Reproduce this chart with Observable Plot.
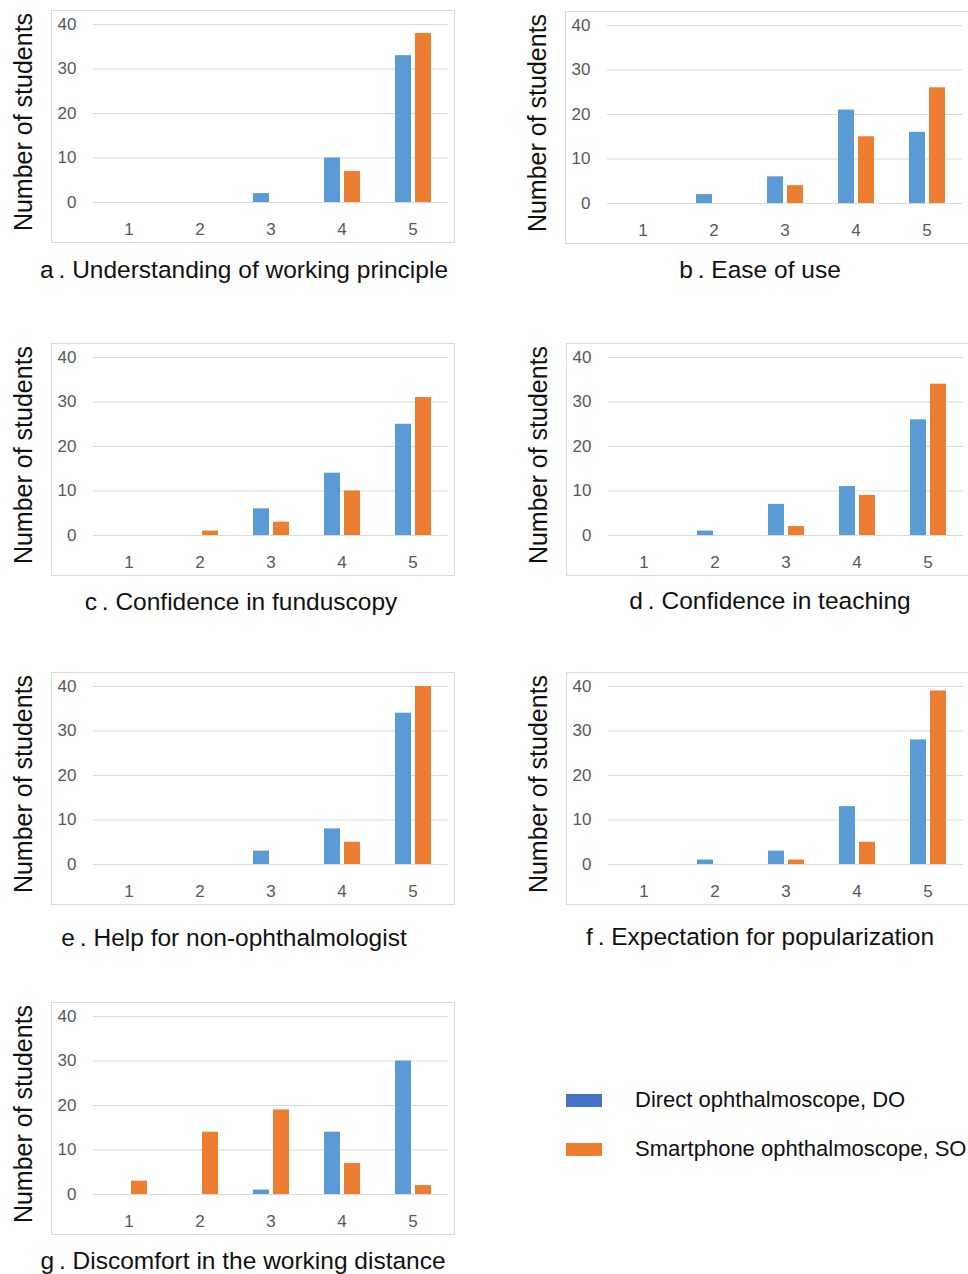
<!DOCTYPE html>
<html>
<head>
<meta charset="utf-8">
<script src="https://cdn.jsdelivr.net/npm/d3@7"></script>
<script src="https://cdn.jsdelivr.net/npm/@observablehq/plot@0.6"></script>
<style>
  html, body { margin: 0; padding: 0; background: #fff; }
  #root { position: relative; width: 968px; height: 1274px; overflow: hidden; background: #fff;
          font-family: "Liberation Sans", Arial, sans-serif; }
  .box { position: absolute; width: 404px; height: 233px; border: 1px solid #d9d9d9; box-sizing: border-box; }
  .box svg { display: block; }
  .ttl { position: absolute; font-size: 24.5px; color: #111; white-space: nowrap; transform: translate(-50%, -50%); }
  .ylab { position: absolute; font-size: 25px; color: #111; white-space: nowrap;
          transform: translate(-50%, -50%) rotate(-90deg); }
  .sw { position: absolute; width: 36px; height: 13px; }
  .lt { position: absolute; font-size: 22px; color: #111; white-space: nowrap; transform: translateY(-50%); }
</style>
</head>
<body>
<div id="root"></div>
<script>
// ---- data ----
const scores = ["1", "2", "3", "4", "5"];
const series = ["DO", "SO"];
const seriesNames = ["Direct ophthalmoscope, DO", "Smartphone ophthalmoscope, SO"];
const yTicks = [0, 10, 20, 30, 40];

const aDO = [0, 0, 2, 10, 33];
const aSO = [0, 0, 0, 7, 38];
const bDO = [0, 2, 6, 21, 16];
const bSO = [0, 0, 4, 15, 26];
const cDO = [0, 0, 6, 14, 25];
const cSO = [0, 1, 3, 10, 31];
const dDO = [0, 1, 7, 11, 26];
const dSO = [0, 0, 2, 9, 34];
const eDO = [0, 0, 3, 8, 34];
const eSO = [0, 0, 0, 5, 40];
const fDO = [0, 1, 3, 13, 28];
const fSO = [0, 0, 1, 5, 39];
const gDO = [0, 0, 1, 14, 30];
const gSO = [3, 14, 19, 7, 2];

const titlePrefixes = ["a", "b", "c", "d", "e", "f", "g"];
const titles = [
  "Understanding of working principle",
  "Ease of use",
  "Confidence in funduscopy",
  "Confidence in teaching",
  "Help for non-ophthalmologist",
  "Expectation for popularization",
  "Discomfort in the working distance"
];
const doSeries = [aDO, bDO, cDO, dDO, eDO, fDO, gDO];
const soSeries = [aSO, bSO, cSO, dSO, eSO, fSO, gSO];

// ---- layout (positions, not data) ----
const boxLeft = [51, 565, 51, 566, 51, 566, 51];
const boxTop = [10, 11, 343, 343, 672, 672, 1002];
const titleX = [244, 760, 241, 770, 234, 760, 243];
const titleY = [270, 270, 602, 601, 938, 937, 1261];

const palette = ["#5B9BD5", "#ED7D31"];
const legendSwatch = ["#4472C4", "#ED7D31"];
const font = '"Liberation Sans", Arial, sans-serif';

const root = document.getElementById("root");

titles.forEach((t, i) => {
  const rows = [];
  scores.forEach((s, j) => {
    rows.push({score: s, series: "DO", count: doSeries[i][j]});
    rows.push({score: s, series: "SO", count: soSeries[i][j]});
  });

  const box = document.createElement("div");
  box.className = "box";
  box.style.left = boxLeft[i] + "px";
  box.style.top = boxTop[i] + "px";

  const chart = Plot.plot({
    width: 402,
    height: 231,
    marginLeft: 41,
    marginRight: 6,
    marginTop: 13,
    marginBottom: 40,
    style: {fontFamily: font, fontSize: "17px", color: "#595959", background: "transparent", overflow: "visible"},
    fx: {domain: scores, padding: 0, label: null, axis: "bottom", tickSize: 0, tickPadding: 20},
    x: {domain: series, paddingInner: 0.2, paddingOuter: 0.875, axis: null},
    y: {domain: [0, 40], ticks: yTicks, tickSize: 0, tickPadding: 17, label: null},
    color: {domain: series, range: palette},
    marks: [
      Plot.ruleY(yTicks, {stroke: "#d9d9d9", strokeWidth: 1}),
      Plot.barY(rows, {fx: "score", x: "series", y: "count", fill: "series"})
    ]
  });
  box.appendChild(chart);
  root.appendChild(box);

  const yl = document.createElement("div");
  yl.className = "ylab";
  yl.textContent = "Number of students";
  yl.style.left = (boxLeft[i] - 28) + "px";
  yl.style.top = (boxTop[i] + 112) + "px";
  root.appendChild(yl);

  const tt = document.createElement("div");
  tt.className = "ttl";
  tt.textContent = titlePrefixes[i] + "\u2009. " + t;
  tt.style.left = titleX[i] + "px";
  tt.style.top = titleY[i] + "px";
  root.appendChild(tt);
});

// ---- legend ----
const legTop = [1100, 1149];
seriesNames.forEach((name, k) => {
  const sw = document.createElement("div");
  sw.className = "sw";
  sw.style.left = "566px";
  sw.style.top = (legTop[k] - 6) + "px";
  sw.style.background = legendSwatch[k];
  root.appendChild(sw);
  const lt = document.createElement("div");
  lt.className = "lt";
  lt.style.left = "635px";
  lt.style.top = legTop[k] + "px";
  lt.textContent = name;
  root.appendChild(lt);
});
</script>
</body>
</html>
